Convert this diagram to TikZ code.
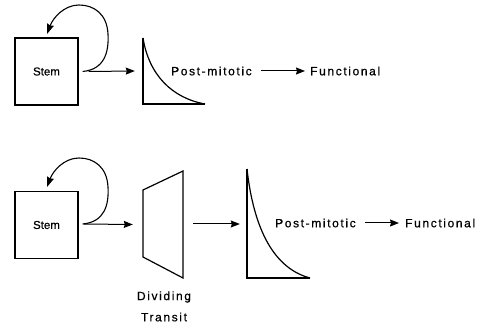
\documentclass[tikz,border=0pt]{standalone}
\usepackage{fontspec}
\setmainfont{Liberation Sans}[FakeBold=0.5]
\newfontfamily\spaced{Liberation Sans}[LetterSpace=13.5, FakeBold=0.6]
\newfontfamily\plain{Liberation Sans}[FakeBold=0.6]
\usetikzlibrary{arrows.meta}
\begin{document}
\begin{tikzpicture}[x=1pt,y=-1pt,
  outline/.style={line width=1.2pt, line join=miter},
  stembox/.style={draw, line width=1.2pt, minimum width=63pt, minimum height=67pt,
    inner sep=0pt, font=\plain\fontsize{11.5}{13}\selectfont},
  label/.style={inner sep=0pt, font=\spaced\fontsize{12}{14}\selectfont},
  frame/.style={inner sep=0pt, minimum width=#1},
  flow/.style={line width=1pt, -{Stealth[length=9pt,width=7pt,inset=1pt]}},
  selfloop/.style={line width=1.1pt, -{Stealth[length=10pt,width=7pt,inset=1pt]}}]
\useasboundingbox (0,0) rectangle (478,328);

% ---------- upper row: stem -> post-mitotic -> functional ----------
\node[stembox] (s1) at (46.5,71.5) {Stem};
\coordinate (l1) at (47,34);
\draw[selfloop] (s1.east) ++(4,0) .. controls +(22,-2) and (109,52) .. (108,34)
  .. controls (107,14) and (94,5) .. (79,5)
  .. controls (64,5) and (53,18) .. (l1);

% decay curve
\coordinate (d1t) at (143,38);
\coordinate (d1b) at (143,104);
\coordinate (d1r) at (205,104);
\node[frame=62pt, minimum height=66pt] (d1) at (174,71) {};
\draw[outline] (d1t) -- (d1b) -- (d1r);
\draw[outline] (d1t) .. controls (149,75) and (172,98) .. (d1r);
\draw[flow] (s1.east) ++(10,0) -- ([xshift=-8pt]d1.west);

\node[label, anchor=west] (p1) at (171,71) {Post-mitotic};
\node[label, anchor=west] (f1) at (310,71) {Functional};
\draw[flow] ([xshift=9pt]p1.east) -- ([xshift=-5pt]f1.west);

% ---------- lower row: stem -> dividing transit -> post-mitotic -> functional ----------
\node[stembox] (s2) at (46.5,225) {Stem};
\coordinate (l2) at (47,187);
\draw[selfloop] (s2.east) ++(4,-1) .. controls +(22,-2) and (109,205) .. (108,187)
  .. controls (107,167) and (94,158) .. (79,158)
  .. controls (64,158) and (53,171) .. (l2);

% dividing transit compartment
\node[frame=40pt, minimum height=107pt] (t2) at (163,224.5) {};
\draw[outline] (143,190) -- (183,171) -- (183,278) -- (143,257) -- cycle;
\draw[flow] (s2.east) ++(5,-1) -- ([xshift=-10pt]t2.west);
\node[label] (dv) at (164,297) {Dividing};
\node[label] (tr) at (164,317) {Transit};

% decay curve
\coordinate (d2t) at (247,169);
\coordinate (d2b) at (247,278);
\coordinate (d2r) at (310,278);
\node[frame=63pt, minimum height=109pt] (d2) at (278.5,223.5) {};
\draw[outline] (d2t) -- (d2b) -- (d2r);
\draw[outline] (d2t) .. controls (255,240) and (280,270) .. (d2r);
\draw[flow] ([xshift=10pt]t2.east |- 0,224) -- ([xshift=-7pt]d2.west |- 0,224);

\node[label, anchor=west] (p2) at (275,223) {Post-mitotic};
\node[label, anchor=west] (f2) at (405,223) {Functional};
\draw[flow] ([xshift=9pt]p2.east) -- ([xshift=-6pt]f2.west);
\end{tikzpicture}
\end{document}
